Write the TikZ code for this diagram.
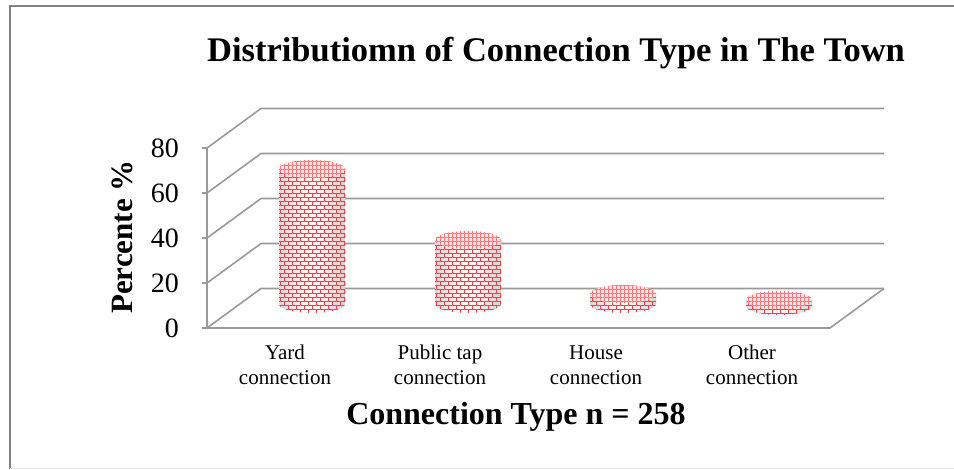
\documentclass[tikz,border=0pt]{standalone}
\usepackage{fontspec}
\setmainfont{Liberation Serif}
\usetikzlibrary{patterns}

\pgfdeclarepatternformonly{tinybricks}{\pgfqpoint{-0.5pt}{-0.5pt}}{\pgfqpoint{8.5pt}{8.5pt}}{\pgfqpoint{8pt}{8pt}}{%
    \pgfsetlinewidth{0.4pt}
    \pgfpathmoveto{\pgfqpoint{0pt}{0pt}}\pgfpathlineto{\pgfqpoint{8pt}{0pt}}
    \pgfpathmoveto{\pgfqpoint{0pt}{4pt}}\pgfpathlineto{\pgfqpoint{8pt}{4pt}}
    \pgfpathmoveto{\pgfqpoint{0pt}{0pt}}\pgfpathlineto{\pgfqpoint{0pt}{4pt}}
    \pgfpathmoveto{\pgfqpoint{4pt}{4pt}}\pgfpathlineto{\pgfqpoint{4pt}{8pt}}
    \pgfusepath{stroke}
}
\pgfdeclarepatternformonly{tinygrid}{\pgfqpoint{-0.5pt}{-0.5pt}}{\pgfqpoint{4.5pt}{4.5pt}}{\pgfqpoint{4pt}{4pt}}{%
    \pgfsetlinewidth{0.35pt}
    \pgfpathmoveto{\pgfqpoint{0pt}{0pt}}\pgfpathlineto{\pgfqpoint{4pt}{0pt}}
    \pgfpathmoveto{\pgfqpoint{0pt}{0pt}}\pgfpathlineto{\pgfqpoint{0pt}{4pt}}
    \pgfusepath{stroke}
}

\definecolor{gridgray}{HTML}{999999}
\definecolor{framegray}{HTML}{808080}
\definecolor{brickred}{HTML}{FF2020}

% #1 = centre x, #2 = base y, #3 = top y
\newcommand{\brickCylinder}[3]{%
    \shade[left color=gray!30, right color=gray!35, middle color=white]
        (#1-33,#3) -- (#1-33,#2) arc[start angle=180, end angle=360, x radius=33, y radius=9] -- (#1+33,#3) -- cycle;
    \fill[pattern=tinybricks, pattern color=brickred!85]
        (#1-33,#3) -- (#1-33,#2) arc[start angle=180, end angle=360, x radius=33, y radius=9] -- (#1+33,#3) -- cycle;
    \fill[gray!18] (#1,#3) ellipse[x radius=33, y radius=9];
    \fill[pattern=tinygrid, pattern color=brickred!60] (#1,#3) ellipse[x radius=33, y radius=9];
}

\begin{document}
\begin{tikzpicture}[x=1pt, y=1pt,
    gridline/.style={gridgray, line width=1.6pt},
    ticklabel/.style={anchor=east, inner sep=0pt, font=\fontsize{28}{30}\selectfont},
    catlabel/.style={anchor=north, inner sep=0pt, align=center, font=\fontsize{21}{25}\selectfont}]

    \useasboundingbox (0,0) rectangle (954,469);

    % --- frame ---
    \draw[framegray, line width=2pt] (10,0) -- (10,462.5) -- (954,462.5);
    \draw[gray!15, line width=1pt] (10,1) -- (954,1);

    % --- title ---
    \node[anchor=base] (title) at (556,407) {\fontsize{34.5}{37}\selectfont\textbf{Distributiomn of Connection Type in The Town}};

    % --- walls and floor ---
    \foreach \k in {0,...,4} {
        \draw[gridline] (207,141+45*\k) -- (261,180.5+45*\k) -- (884,180.5+45*\k);
        \draw[gridline] (202,141+45*\k) -- (207,141+45*\k);
    }
    \draw[gridline] (207,321) -- (207,141) -- (830,141) -- (884,180.5);

    % --- tick labels ---
    \foreach \v [count=\k from 0] in {0,20,40,60,80} {
        \node[ticklabel] (tick\v) at (179,141+45*\k) {\v};
    }

    % --- axis titles ---
    \node[rotate=90] (ytitle) at (122,232) {\fontsize{31}{33}\selectfont\textbf{Percente \%}};
    \node[anchor=base] (xtitle) at (516,45) {\fontsize{32}{34}\selectfont\textbf{Connection Type n = 258}};

    % --- cylinders ---
    \brickCylinder{312}{165}{300}
    \brickCylinder{468}{165}{229}
    \brickCylinder{623}{165}{175}
    \brickCylinder{779}{163}{169}

    % --- category labels ---
    \node[catlabel] (yard)   at (285,124) {\vphantom{d}Yard\\connection};
    \node[catlabel] (public) at (440,124) {\vphantom{d}Public tap\\connection};
    \node[catlabel] (house)  at (596,124) {\vphantom{d}House\\connection};
    \node[catlabel] (other)  at (752,124) {\vphantom{d}Other\\connection};

\end{tikzpicture}
\end{document}
